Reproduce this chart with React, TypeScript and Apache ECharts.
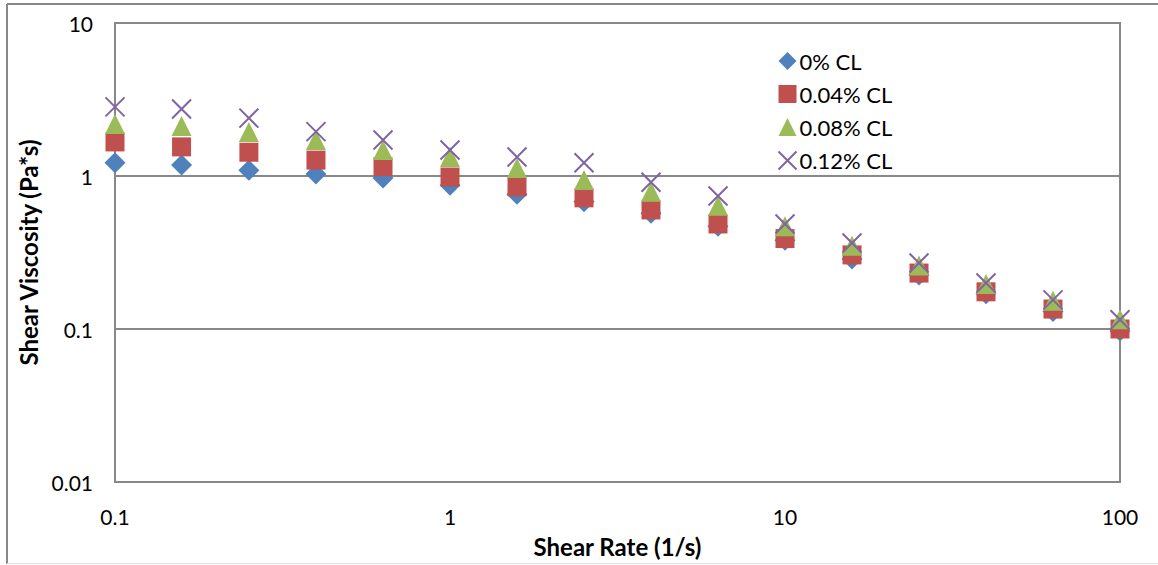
import React, { useEffect, useRef } from "react";
import * as echarts from "echarts";

const shearRate = [0.1, 0.158, 0.251, 0.398, 0.631, 1, 1.585, 2.512, 3.981, 6.31, 10, 15.85, 25.12, 39.81, 63.1, 100];
const cl0 = [1.22, 1.18, 1.09, 1.03, 0.97, 0.87, 0.76, 0.68, 0.57, 0.47, 0.38, 0.287, 0.225, 0.17, 0.13, 0.097];
const cl004 = [1.67, 1.55, 1.43, 1.27, 1.15, 0.985, 0.85, 0.72, 0.6, 0.486, 0.39, 0.305, 0.232, 0.175, 0.135, 0.1];
const cl008 = [2.19, 2.12, 1.94, 1.72, 1.48, 1.33, 1.13, 0.94, 0.79, 0.64, 0.47, 0.35, 0.26, 0.197, 0.153, 0.116];
const cl012 = [2.83, 2.74, 2.39, 1.95, 1.72, 1.48, 1.33, 1.22, 0.91, 0.74, 0.486, 0.365, 0.27, 0.2, 0.155, 0.115];
const seriesNames = ["0% CL", "0.04% CL", "0.08% CL", "0.12% CL"];

const FONT = "Lato, 'Open Sans', sans-serif";

export default function App() {
  const ref = useRef<HTMLDivElement>(null);
  useEffect(() => {
    if (!ref.current) return;
    const chart = echarts.init(ref.current, null, { renderer: "svg" });
    const pair = (ys: number[]) => shearRate.map((x, i) => [x, ys[i]]);
    const crossPath = "path://M0,0L10,10M10,0L0,10";
    chart.setOption({
      animation: false,
      backgroundColor: "#fff",
      textStyle: { fontFamily: FONT },
      grid: {
        left: 115,
        top: 23,
        width: 1005,
        height: 459,
        outerBoundsMode: "none",
        containLabel: false,
        show: true,
        borderColor: "#888",
        borderWidth: 2,
        backgroundColor: "transparent",
      },
      legend: {
        orient: "vertical",
        left: 771,
        top: 45,
        itemGap: 11,
        itemWidth: 18,
        itemHeight: 18,
        textStyle: { fontSize: 22, color: "#000", fontFamily: FONT, padding: [0, 0, 0, -2] },
        data: seriesNames,
      },
      xAxis: {
        type: "log",
        logBase: 10,
        min: 0.1,
        max: 100,
        name: "Shear Rate (1/s)",
        nameLocation: "middle",
        nameGap: 52,
        nameTextStyle: { fontSize: 24, fontWeight: "bold", color: "#000", fontFamily: FONT },
        axisLine: { show: true, lineStyle: { color: "#888", width: 2 } },
        axisTick: { show: false },
        splitLine: { show: false },
        axisLabel: {
          fontSize: 21,
          color: "#000",
          margin: 24,
          fontFamily: FONT,
          formatter: (v: number) => String(Number(v.toPrecision(3))),
        },
      },
      yAxis: {
        type: "log",
        logBase: 10,
        min: 0.01,
        max: 10,
        name: "Shear Viscosity (Pa*s)",
        nameLocation: "middle",
        nameGap: 70,
        nameTextStyle: { fontSize: 24, fontWeight: "bold", color: "#000", fontFamily: FONT },
        axisLine: { show: true, lineStyle: { color: "#888", width: 2 } },
        axisTick: { show: false },
        splitLine: { show: true, lineStyle: { color: "#888", width: 2 } },
        axisLabel: {
          fontSize: 21,
          color: "#000",
          margin: 22,
          fontFamily: FONT,
          formatter: (v: number) => String(Number(v.toPrecision(3))),
        },
      },
      graphic: [
        { type: "line", shape: { x1: 7, y1: 4, x2: 1158, y2: 4 }, style: { stroke: "#888", lineWidth: 2 }, silent: true },
        { type: "line", shape: { x1: 7, y1: 4, x2: 7, y2: 564 }, style: { stroke: "#888", lineWidth: 2 }, silent: true },
        { type: "line", shape: { x1: 7, y1: 563.5, x2: 1158, y2: 563.5 }, style: { stroke: "#e0e0e0", lineWidth: 1 }, silent: true },
      ],
      series: [
        {
          name: seriesNames[0],
          type: "scatter",
          symbol: "diamond",
          symbolSize: 21,
          itemStyle: { color: "#4F81BD", opacity: 1 },
          data: pair(cl0),
        },
        {
          name: seriesNames[1],
          type: "scatter",
          symbol: "rect",
          symbolSize: 19,
          itemStyle: { color: "#C0504D", opacity: 1 },
          data: pair(cl004),
        },
        {
          name: seriesNames[2],
          type: "scatter",
          symbol: "triangle",
          symbolSize: 20,
          itemStyle: { color: "#9BBB59", opacity: 1 },
          data: pair(cl008),
        },
        {
          name: seriesNames[3],
          type: "scatter",
          symbol: crossPath,
          symbolSize: 19,
          itemStyle: { color: "none", borderColor: "#8064A2", borderWidth: 2, opacity: 1 },
          data: pair(cl012),
        },
      ],
    });
    return () => chart.dispose();
  }, []);
  return (
    <div
      ref={ref}
      style={{ position: "absolute", left: 0, top: 0, width: 1158, height: 565 }}
    />
  );
}
